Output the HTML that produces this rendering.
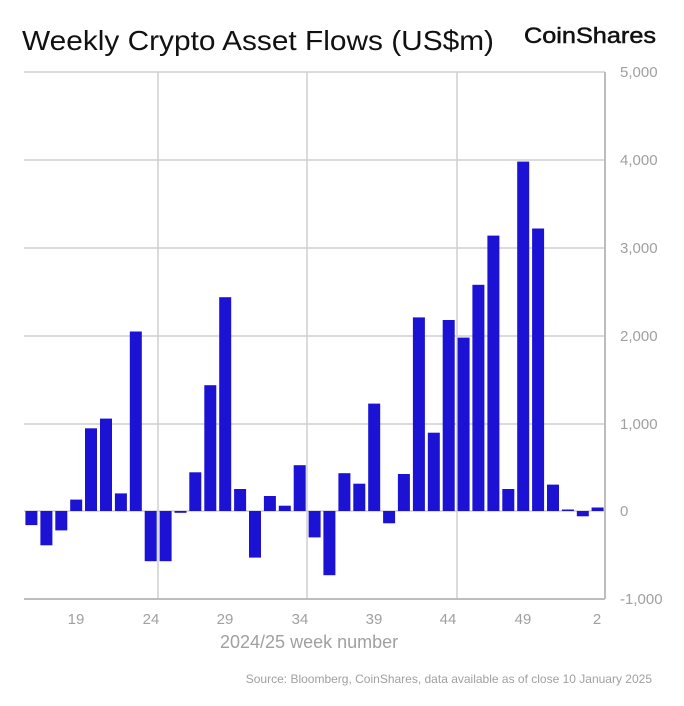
<!DOCTYPE html>
<html><head><meta charset="utf-8">
<style>
html,body{margin:0;padding:0;background:#fff;}
svg{display:block;font-family:"Liberation Sans",sans-serif;}
</style></head>
<body>
<svg id="c" width="684" height="706" viewBox="0 0 684 706" xmlns="http://www.w3.org/2000/svg">
<rect width="684" height="706" fill="#fff"/>
<text x="22" y="50" font-size="28" fill="#111" textLength="472" lengthAdjust="spacingAndGlyphs">Weekly Crypto Asset Flows (US$m)</text>
<text x="524" y="43" font-size="22" fill="#111" stroke="#111" stroke-width="0.5" textLength="132" lengthAdjust="spacingAndGlyphs">CoinShares</text>
<g stroke="#cfcfcf" stroke-width="1.5">
<line x1="24" y1="72" x2="605" y2="72"/>
<line x1="24" y1="160" x2="605" y2="160"/>
<line x1="24" y1="248" x2="605" y2="248"/>
<line x1="24" y1="336" x2="605" y2="336"/>
<line x1="24" y1="424" x2="605" y2="424"/>
<line x1="24" y1="511" x2="605" y2="511"/>
<line x1="158" y1="72" x2="158" y2="599"/>
<line x1="307" y1="72" x2="307" y2="599"/>
<line x1="457" y1="72" x2="457" y2="599"/>
</g>
<g stroke="#bdbdbd" stroke-width="2">
<line x1="24" y1="599" x2="605" y2="599"/>
<line x1="605" y1="72" x2="605" y2="599"/>
</g>
<g id="bars" fill="#1c12d4"></g>
<g font-size="15" fill="#a0a0a0">
<text x="620" y="77">5,000</text>
<text x="620" y="165">4,000</text>
<text x="620" y="253">3,000</text>
<text x="620" y="341">2,000</text>
<text x="620" y="429">1,000</text>
<text x="620" y="516">0</text>
<text x="620" y="604">-1,000</text>
</g>
<g font-size="15" fill="#a0a0a0" text-anchor="middle">
<text x="76" y="624">19</text>
<text x="151" y="624">24</text>
<text x="225" y="624">29</text>
<text x="300" y="624">34</text>
<text x="374" y="624">39</text>
<text x="448" y="624">44</text>
<text x="523" y="624">49</text>
<text x="597" y="624">2</text>
</g>
<text x="220" y="648" font-size="18" fill="#a0a0a0">2024/25 week number</text>
<text x="652" y="683" font-size="12" fill="#a0a0a0" text-anchor="end">Source: Bloomberg, CoinShares, data available as of close 10 January 2025</text>
</svg>
<script>
var v=[-160,-390,-220,130,940,1050,200,2040,-570,-570,-20,440,1430,2430,250,-530,170,60,520,-300,-730,430,310,1220,-140,420,2200,890,2170,1970,2570,3130,250,3970,3210,300,10,-60,40];
var g=document.getElementById('bars'),s='';
for(var i=0;i<v.length;i++){var cx=24+14.9*(i+0.5),h=Math.abs(v[i])*0.088;if(h<1.5)h=1.5;var y=v[i]>=0?511-h:511;
s+='<rect x="'+(cx-6).toFixed(1)+'" y="'+y.toFixed(1)+'" width="12" height="'+h.toFixed(1)+'"/>';}
g.innerHTML=s;
</script>
</body></html>
